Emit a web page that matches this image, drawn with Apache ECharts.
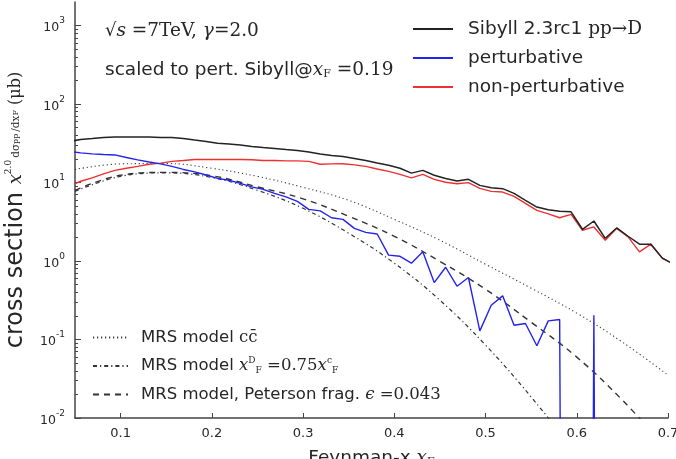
<!DOCTYPE html>
<html><head><meta charset="utf-8">
<script src="https://cdn.jsdelivr.net/npm/echarts@6/dist/echarts.min.js"></script>
<style>html,body{margin:0;padding:0;background:#fff}#c{width:676px;height:459px}</style>
</head><body><div id="c"></div>
<script>
// bin centres (Feynman-x)
const xBins = [0.04375,0.05625,0.06875,0.08125,0.09375,0.10625,0.11875,0.13125,0.14375,0.15625,0.16875,0.18125,0.19375,0.20625,0.21875,0.23125,0.24375,0.25625,0.26875,0.28125,0.29375,0.30625,0.31875,0.33125,0.34375,0.35625,0.36875,0.38125,0.39375,0.40625,0.41875,0.43125,0.44375,0.45625,0.46875,0.48125,0.49375,0.50625,0.51875,0.53125,0.54375,0.55625,0.56875,0.58125,0.59375,0.60625,0.61875,0.63125,0.64375,0.65625,0.66875,0.68125,0.69375,0.70625];
const sibyll = [33.4,35.5,36.5,37.6,38.1,38.1,38.1,38.1,37.6,37.6,36.5,34.9,33.4,31.8,31.1,30.2,28.9,28.0,27.2,26.4,25.7,24.6,23.2,22.2,21.5,20.3,19.1,17.8,16.6,15.2,13.2,14.3,12.4,11.3,10.5,11.0,9.21,8.57,8.36,7.29,5.94,4.88,4.50,4.30,4.24,2.54,3.24,1.95,2.64,2.07,1.64,1.64,1.09,0.91];
const Z = 1e-30; // empty bin (zero)
const perturbative = [24.9,23.9,23.2,22.8,22.5,20.9,19.5,18.3,17.3,16.1,14.7,13.7,12.5,11.3,10.7,9.77,8.81,8.19,7.29,6.58,5.77,4.56,4.36,3.56,3.40,2.61,2.32,2.21,1.19,1.15,0.94,1.31,0.532,0.834,0.478,0.617,0.129,0.274,0.360,0.152,0.160,0.0832,0.173,0.180,Z,Z,0.204,Z,Z,Z,Z,Z,Z,Z];
const nonPerturbative = [8.95,10.4,11.5,12.9,14.3,15.2,16.1,17.1,17.7,18.6,19.1,19.7,19.7,19.7,19.7,19.7,19.5,19.1,19.1,18.9,18.9,18.6,17.1,17.3,17.4,16.8,16.1,14.9,13.9,12.7,11.5,12.7,11.0,10.1,9.68,9.97,8.44,7.73,7.57,6.67,5.43,4.43,4.00,3.56,3.94,2.47,2.72,1.84,2.61,2.03,1.31,1.64,1.09,0.91];

// MRS model curves
const xModel = [0.05,0.1,0.15,0.2,0.25,0.3,0.35,0.4,0.45,0.5,0.55,0.6,0.65,0.7];
const mrsCC = [14.7,17.3,17.5,15.2,12.0,8.69,5.94,3.40,1.84,0.91,0.451,0.217,0.0927,0.0352];
const mrsScaled = [7.73,12.0,13.3,11.6,7.96,4.70,2.26,0.94,0.317,0.0849,0.0185,0.00338,0.000504,0.0000648];
const mrsPeterson = [7.96,12.4,13.5,12.2,8.81,6.21,3.72,2.07,0.99,0.437,0.166,0.0597,0.0169,0.00392];

const xTicks = [0.1,0.2,0.3,0.4,0.5,0.6,0.7];
const yTicks = [0.01,0.1,1,10,100,1000];
const yMinor = [0.02,0.03,0.04,0.05,0.06,0.07,0.08,0.09,0.2,0.3,0.4,0.5,0.6,0.7,0.8,0.9,2,3,4,5,6,7,8,9,20,30,40,50,60,70,80,90,200,300,400,500,600,700,800,900];

const pair = (xs, ys) => xs.map((x, i) => [x, ys[i]]);
const chart = echarts.init(document.getElementById('c'));
const txt = '#262626';
const SANS = 'DejaVu Sans';
const SERIF = 'DejaVu Serif';

const legendNames = {
  sib: 'Sibyll 2.3rc1 {m|pp→D}',
  pert: 'perturbative',
  np: 'non-perturbative',
  cc: 'MRS model {m|cc̄}',
  sc: 'MRS model {mi|x}{sup|D}{sub|F}{m| =0.75}{mi|x}{sup|c}{sub|F}',
  pet: 'MRS model, Peterson frag. {mi|ϵ}{m| =0.043}'
};

const baseLine = (name, data, color, width, type, z) => ({
  name, type: 'line', data, symbol: 'none', clip: true, z: z || 2,
  lineStyle: {color, width, type: type || 'solid'}, itemStyle: {color},
  emphasis: {disabled: true}, animation: false
});

chart.setOption({
  animation: false,
  backgroundColor: '#fff',
  grid: {left: 75, right: 8, top: 2, bottom: 41, containLabel: false, outerBoundsMode: 'none'},
  xAxis: {
    type: 'value', min: 0.05, max: 0.7,
    axisLine: {lineStyle: {color: '#444', width: 1.5}},
    splitLine: {show: false},
    axisTick: {inside: true, length: 5, customValues: xTicks, lineStyle: {color: '#444'}},
    axisLabel: {customValues: xTicks, color: txt, fontFamily: SANS, fontSize: 13, margin: 9,
      formatter: v => v.toFixed(1)},
    name: 'Feynman-x {mi|x}{sub|F}',
    nameLocation: 'middle', nameGap: 31,
    nameTextStyle: {color: txt, fontFamily: SANS, fontSize: 18.5,
      rich: {mi: {fontFamily: SERIF, fontStyle: 'italic', fontSize: 18.5, color: txt},
             sub: {fontFamily: SERIF, fontSize: 11, color: txt, verticalAlign: 'bottom', padding: [8,0,0,0]}}}
  },
  yAxis: [{
    type: 'log', min: 0.01, max: 2000, logBase: 10, position: 'left',
    axisLine: {show: true, lineStyle: {color: '#444', width: 1.5}},
    splitLine: {show: false},
    axisTick: {inside: true, length: 6, customValues: yTicks, lineStyle: {color: '#444'}},
    axisLabel: {customValues: yTicks, margin: 10, color: txt,
      formatter: v => '{b|10}{s|' + Math.round(Math.log10(v)) + '}',
      rich: {b: {fontFamily: SANS, fontSize: 12.5, lineHeight: 18, verticalAlign: 'bottom', color: txt},
             s: {fontFamily: SANS, fontSize: 9, lineHeight: 18, verticalAlign: 'top', color: txt}}},
    name: 'cross section {mi|x}{sup|2.0}{fr|dσ}{sub|pp}{fr|/dx}{sub|F}{m| (μb)}',
    nameLocation: 'middle', nameRotate: 90, nameGap: 47,
    nameTextStyle: {color: txt, fontFamily: SANS, fontSize: 24,
      rich: {mi: {fontFamily: SERIF, fontStyle: 'italic', fontSize: 18, color: txt},
             sub: {fontFamily: SERIF, fontSize: 8, color: txt},
             sup: {fontFamily: SERIF, fontSize: 9, color: txt, verticalAlign: 'top'},
             fr: {fontFamily: SERIF, fontSize: 10.5, color: txt, padding: [0,0,0,2]},
             m: {fontFamily: SERIF, fontSize: 16, color: txt}}}
  }, {
    type: 'log', min: 0.01, max: 2000, logBase: 10, gridIndex: 0, position: 'left',
    axisLine: {show: false}, splitLine: {show: false}, axisLabel: {show: false},
    axisTick: {show: true, inside: true, length: 3, customValues: yMinor, lineStyle: {color: '#444'}}
  }],
  legend: [{
    data: ['sib', 'pert', 'np'],
    left: 412, top: 19, padding: 0, orient: 'vertical', itemGap: 9, itemWidth: 40, itemHeight: 14,
    itemStyle: {color: 'rgba(0,0,0,0)', borderWidth: 0, opacity: 0},
    formatter: n => legendNames[n], selectedMode: false,
    textStyle: {color: txt, fontFamily: SANS, fontSize: 18.5, lineHeight: 20, padding: [0,0,0,10],
      rich: {m: {fontFamily: SERIF, fontSize: 18.5, lineHeight: 20, color: txt}}}
  }, {
    data: ['cc', 'sc', 'pet'],
    left: 92, top: 328, padding: 0, orient: 'vertical', itemGap: 9.5, itemWidth: 35, itemHeight: 14,
    itemStyle: {color: 'rgba(0,0,0,0)', borderWidth: 0, opacity: 0},
    formatter: n => legendNames[n], selectedMode: false,
    textStyle: {color: txt, fontFamily: SANS, fontSize: 16.5, lineHeight: 19, padding: [0,0,0,8],
      rich: {m: {fontFamily: SERIF, fontSize: 16.5, lineHeight: 19, color: txt},
             mi: {fontFamily: SERIF, fontStyle: 'italic', fontSize: 16.5, lineHeight: 19, color: txt},
             sup: {fontFamily: SERIF, fontSize: 9, lineHeight: 19, color: txt, verticalAlign: 'top'},
             sub: {fontFamily: SERIF, fontSize: 9, lineHeight: 19, color: txt, verticalAlign: 'bottom'}}}
  }],
  graphic: [{
    type: 'text', left: 105, top: 22, silent: true,
    style: {text: '{r|√}{mi|s}{m| =7TeV, }{mi|γ}{m|=2.0}', fill: txt,
      rich: {r: {fontFamily: SERIF, fontSize: 18, fill: txt},
             mi: {fontFamily: SERIF, fontStyle: 'italic', fontSize: 18.5, fill: txt},
             m: {fontFamily: SERIF, fontSize: 18.5, fill: txt}}}
  }, {
    type: 'text', left: 105, top: 61, silent: true,
    style: {text: '{t|scaled to pert. Sibyll@}{mi|x}{sub|F}{m| =0.19}', fill: txt,
      rich: {t: {fontFamily: SANS, fontSize: 18.5, fill: txt},
             mi: {fontFamily: SERIF, fontStyle: 'italic', fontSize: 18.5, fill: txt},
             sub: {fontFamily: SERIF, fontSize: 11, fill: txt, verticalAlign: 'bottom'},
             m: {fontFamily: SERIF, fontSize: 18.5, fill: txt}}}
  }],
  series: [
    baseLine('cc', pair(xModel, mrsCC), '#3a3a3a', 1.1, [1.2, 2.8], 1),
    baseLine('sc', pair(xModel, mrsScaled), '#333', 1.2, [4, 3, 1.2, 3], 1),
    baseLine('pet', pair(xModel, mrsPeterson), '#333', 1.4, [6, 5], 1),
    baseLine('np', pair(xBins, nonPerturbative), '#f03030', 1.4, 'solid', 3),
    baseLine('pert', pair(xBins, perturbative), '#2323f0', 1.4, 'solid', 4),
    baseLine('sib', pair(xBins, sibyll), '#222', 1.5, 'solid', 5)
  ].map(s => (s.name === 'cc' || s.name === 'sc' || s.name === 'pet') ? Object.assign(s, {smooth: 0.4}) : s)
});
</script></body></html>
